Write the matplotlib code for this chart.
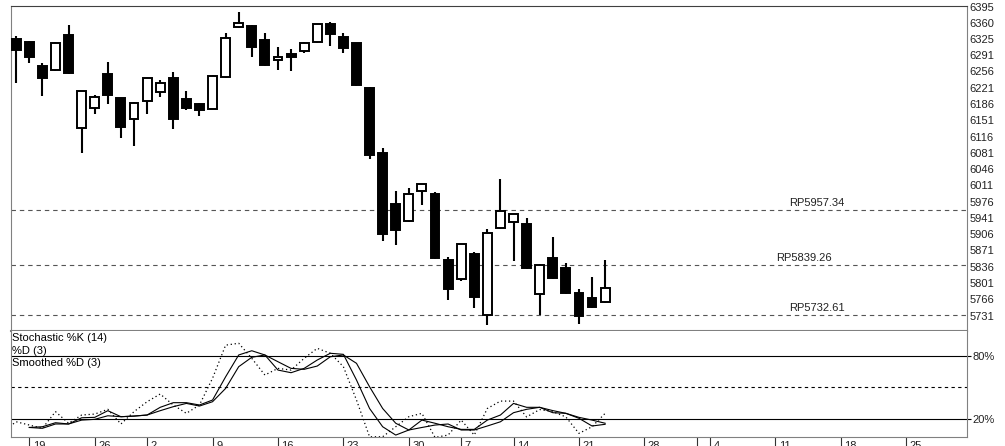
import numpy as np
import matplotlib.pyplot as plt

plt.rcParams['font.family'] = ['Liberation Sans', 'DejaVu Sans']

# daily candles (one per trading day)
opens = [6325, 6319, 6267, 6258, 6334, 6135, 6178, 6250, 6198, 6154, 6193, 6211, 6241, 6196, 6185, 6176,
         6243, 6351, 6353, 6323, 6280, 6293, 6299, 6319, 6357, 6330, 6316, 6221, 6081, 5970, 5934, 5999,
         5992, 5851, 5810, 5863, 5732, 5920, 5932, 5928, 5777, 5855, 5833, 5779, 5768, 5760]
highs = [6332, 6321, 6275, 6319, 6355, 6214, 6206, 6276, 6199, 6190, 6242, 6237, 6254, 6213, 6189, 6248,
         6338, 6384, 6356, 6338, 6308, 6304, 6320, 6358, 6362, 6338, 6318, 6223, 6092, 5999, 6006, 6014,
         5997, 5856, 5886, 5867, 5918, 6024, 5950, 5941, 5841, 5900, 5844, 5789, 5813, 5851]
lows = [6232, 6275, 6204, 6257, 6250, 6081, 6165, 6185, 6113, 6096, 6165, 6200, 6133, 6172, 6161, 6175,
        6242, 6349, 6286, 6268, 6258, 6256, 6295, 6318, 6310, 6295, 6224, 6068, 5891, 5882, 5932, 5968,
        5853, 5765, 5806, 5748, 5711, 5918, 5849, 5832, 5732, 5810, 5778, 5714, 5748, 5759]
closes = [6301, 6286, 6241, 6316, 6252, 6213, 6200, 6206, 6137, 6189, 6241, 6230, 6154, 6178, 6172, 6247,
          6327, 6360, 6308, 6269, 6286, 6287, 6318, 6357, 6336, 6306, 6226, 6077, 5907, 5915, 5993, 6013,
          5855, 5789, 5885, 5771, 5909, 5956, 5949, 5833, 5840, 5812, 5779, 5731, 5749, 5791]

# stochastic, starting one day before the first candle
pct_k = [8.7, 17.4, 14.3, 11.2, 27.0, 16.0, 23.8, 24.7, 29.2, 15.3, 27.0, 36.4, 43.7, 33.3, 25.4, 33.3,
         58.6, 90.0, 91.8, 77.5, 61.7, 68.0, 66.4, 77.5, 87.0, 82.3, 69.6, 38.0, 3.2, 3.2, 12.7, 22.2,
         25.4, 2.6, 4.8, 19.0, 4.8, 30.0, 37.0, 37.0, 22.0, 29.0, 27.0, 22.0, 6.4, 12.7, 25.4]
pct_d = [np.nan, np.nan, 12.0, 12.7, 16.5, 15.3, 21.2, 21.6, 27.9, 22.2, 22.8, 23.8, 31.1, 35.5, 35.5, 33.3,
         38.0, 60.0, 80.7, 84.7, 80.7, 66.4, 63.9, 68.0, 75.9, 82.3, 81.3, 57.0, 30.0, 12.7, 4.8, 9.6,
         19.0, 16.0, 12.7, 10.2, 10.2, 19.0, 23.8, 34.8, 31.1, 31.1, 28.0, 25.4, 20.7, 13.4, 15.0]
smooth_d = [np.nan, np.nan, 12.0, 11.2, 15.3, 15.3, 19.0, 19.7, 23.1, 22.2, 22.8, 23.8, 27.9, 31.7, 34.8, 32.3,
            36.4, 49.0, 69.6, 78.5, 80.7, 74.3, 68.0, 67.1, 70.2, 79.0, 80.7, 72.8, 50.6, 30.0, 16.0, 9.6,
            12.0, 14.3, 15.3, 9.6, 9.6, 13.4, 17.4, 26.0, 29.2, 31.1, 26.0, 25.4, 21.6, 19.0, 16.0]

day_ticks = [1, 6, 10, 15, 20, 25, 30, 34, 38, 43, 48, 52, 53, 58, 63, 68]
day_labels = ['19', '26', '2', '9', '16', '23', '30', '7', '14', '21', '28', '', '4', '11', '18', '25']

price_ticks = [6395, 6360, 6325, 6291, 6256, 6221, 6186, 6151, 6116, 6081, 6046, 6011, 5976, 5941,
               5906, 5871, 5836, 5801, 5766, 5731]
ref_levels = [5957.34, 5839.26, 5732.61]
ref_text_x = [59.05, 58.1, 59.05]

stoch_ticks = [20, 80]
stoch_labels = ['20%', '80%']

#################
####  PLOTS  ####
#################

fig = plt.figure(figsize=(10.05, 4.46), dpi=100)
ax1 = fig.add_axes([0.01095, 0.25852, 0.9512, 0.72803])
ax2 = fig.add_axes([0.01095, 0.01906, 0.9512, 0.23946], sharex=ax1)

x = np.arange(len(opens))
o = np.array(opens)
c = np.array(closes)
up = c >= o
ax1.vlines(x, lows, highs, color='black', lw=1.5, zorder=2)
ax1.bar(x, np.maximum(np.abs(c - o), 1), bottom=np.minimum(o, c), width=0.68,
        color=np.where(up, 'white', 'black'), edgecolor='black', linewidth=1.4, zorder=3)

for lev, tx in zip(ref_levels, ref_text_x):
    ax1.axhline(lev, color='#555555', lw=0.8, ls=(0, (4, 3.5)), zorder=1)
    ax1.annotate('RP%.2f' % lev, xy=(tx, lev), xytext=(0, 3), textcoords='offset points',
                 ha='left', va='baseline', fontsize=8, color='#222222')

ax1.set_xlim(-0.4, 72.65)
ax1.set_ylim(5698.6, 6396.5)
ax1.yaxis.tick_right()
ax1.set_yticks(price_ticks)
ax1.set_yticklabels([str(p) for p in price_ticks], fontsize=8, color='#222222')
ax1.tick_params(axis='y', length=0, pad=2)
ax1.tick_params(axis='x', length=0, labelbottom=False)
for s in ['left', 'right', 'bottom']:
    ax1.spines[s].set_color('#808080')
ax1.spines['top'].set_color('#404040')
ax1.spines['bottom'].set_linewidth(1.5)

# stochastic panel
xs = np.arange(-1, len(opens))
ax2.axhline(80, color='black', lw=0.8)
ax2.axhline(20, color='black', lw=0.8)
ax2.axhline(50, color='black', lw=0.8, ls=(0, (3, 3)))
ax2.plot(xs, pct_k, color='black', lw=0.9, ls=(0, (1, 2.2)))
ax2.plot(xs, pct_d, color='black', lw=0.8)
ax2.plot(xs, smooth_d, color='black', lw=0.8)
ax2.set_ylim(2.5, 103.7)
ax2.yaxis.tick_right()
ax2.set_yticks(stoch_ticks)
ax2.set_yticklabels(stoch_labels, fontsize=8, color='#222222')
ax2.tick_params(axis='y', length=3, width=0.8, pad=1)
ax2.set_xticks(day_ticks)
ax2.set_xticklabels([])
ax2.tick_params(axis='x', length=7, width=0.8, color='#333333')
for t, lab in zip(day_ticks, day_labels):
    ax2.annotate(lab, xy=(t, 0), xycoords=('data', 'axes fraction'), xytext=(2.5, -2.5),
                 textcoords='offset points', ha='left', va='top', fontsize=8, color='#222222')
for s in ['left', 'right', 'bottom']:
    ax2.spines[s].set_color('#808080')
ax2.spines['top'].set_visible(False)

ax2.text(0.0015, 0.93, 'Stochastic %K (14)', transform=ax2.transAxes, fontsize=8, va='center')
ax2.text(0.0015, 0.81, '%D (3)', transform=ax2.transAxes, fontsize=8, va='center')
ax2.text(0.0015, 0.695, 'Smoothed %D (3)', transform=ax2.transAxes, fontsize=8, va='center')

fig.savefig('out.png', dpi=100)
